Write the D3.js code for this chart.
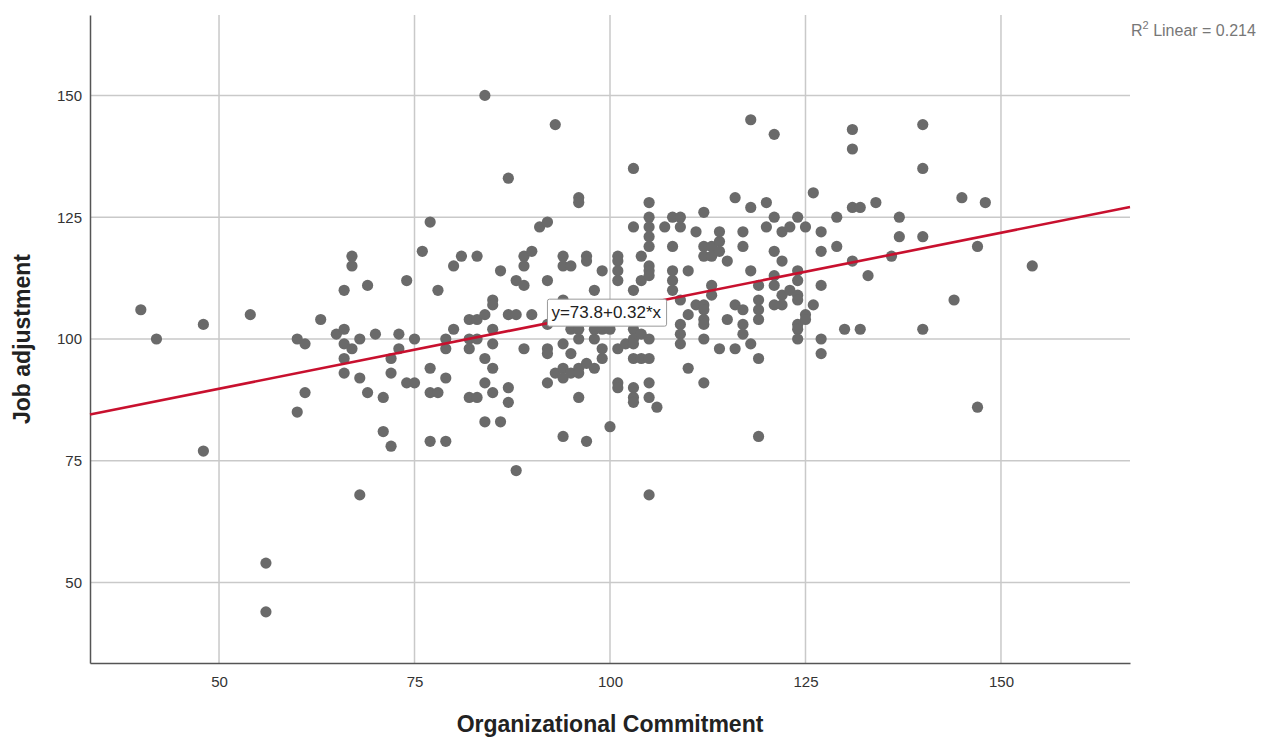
<!DOCTYPE html>
<html>
<head>
<meta charset="utf-8">
<script src="https://cdn.jsdelivr.net/npm/d3@7"></script>
<style>
  body { margin: 0; background: #fff; }
  svg { font-family: 'Liberation Sans', Arial, sans-serif; }
</style>
</head>
<body>
<div id="chart"></div>
<script>
// Organizational Commitment (x) vs Job adjustment (y)
const commitment = [
  40, 42, 48, 48, 54, 56, 56, 60, 60, 61,
  61, 63, 65, 66, 66, 66, 66, 66, 67, 67,
  67, 68, 68, 68, 69, 69, 70, 71, 71, 72,
  72, 72, 73, 73, 74, 74, 75, 75, 76, 77,
  77, 77, 77, 78, 78, 79, 79, 79, 79, 80,
  80, 81, 82, 82, 82, 82, 83, 83, 83, 83,
  84, 84, 84, 84, 84, 85, 85, 85, 85, 85,
  85, 86, 86, 87, 87, 87, 87, 88, 88, 88,
  89, 89, 89, 89, 90, 90, 91, 92, 92, 92,
  92, 92, 92, 93, 93, 94, 94, 94, 94, 94,
  94, 94, 95, 95, 95, 95, 96, 96, 96, 96,
  96, 96, 96, 97, 97, 97, 97, 98, 98, 98,
  98, 99, 99, 99, 99, 100, 100, 101, 101, 101,
  101, 101, 101, 101, 102, 103, 103, 103, 103, 103,
  103, 103, 103, 103, 103, 103, 104, 104, 104, 104,
  105, 105, 105, 105, 105, 105, 105, 105, 105, 105,
  105, 105, 105, 106, 107, 108, 108, 108, 108, 108,
  109, 109, 109, 109, 109, 109, 110, 110, 110, 111,
  111, 112, 112, 112, 112, 112, 112, 112, 112, 112,
  113, 113, 113, 113, 114, 114, 114, 114, 115, 115,
  116, 116, 116, 117, 117, 117, 117, 117, 118, 118,
  118, 118, 119, 119, 119, 119, 119, 119, 120, 120,
  121, 121, 121, 121, 121, 121, 122, 122, 122, 122,
  123, 123, 124, 124, 124, 124, 124, 124, 124, 124,
  125, 125, 125, 126, 126, 127, 127, 127, 127, 127,
  129, 129, 130, 131, 131, 131, 131, 132, 132, 133,
  134, 136, 137, 137, 140, 140, 140, 140, 144, 145,
  147, 147, 148, 154
];
const adjustment = [
  106, 100, 103, 77, 105, 54, 44, 100, 85, 99,
  89, 104, 101, 110, 102, 99, 96, 93, 117, 115,
  98, 100, 92, 68, 111, 89, 101, 88, 81, 96,
  93, 78, 101, 98, 112, 91, 100, 91, 118, 124,
  94, 89, 79, 110, 89, 100, 98, 92, 79, 115,
  102, 117, 104, 100, 98, 88, 117, 104, 100, 88,
  150, 105, 96, 91, 83, 108, 107, 102, 99, 94,
  89, 114, 83, 133, 105, 90, 87, 112, 105, 73,
  117, 115, 111, 98, 118, 105, 123, 124, 112, 103,
  98, 97, 91, 144, 93, 117, 115, 108, 99, 94,
  92, 80, 115, 102, 97, 93, 129, 128, 102, 100,
  94, 93, 88, 117, 116, 95, 79, 110, 102, 100,
  94, 114, 102, 98, 96, 102, 82, 117, 116, 114,
  112, 98, 91, 90, 99, 135, 123, 110, 107, 102,
  100, 99, 96, 90, 88, 87, 117, 112, 101, 96,
  128, 125, 123, 121, 119, 115, 114, 113, 100, 96,
  91, 88, 68, 86, 123, 125, 119, 114, 112, 110,
  125, 123, 108, 103, 101, 99, 114, 105, 94, 122,
  107, 126, 119, 117, 107, 106, 104, 103, 100, 91,
  119, 117, 111, 109, 122, 120, 118, 98, 116, 104,
  129, 107, 98, 122, 119, 106, 103, 101, 145, 127,
  114, 99, 111, 108, 106, 104, 96, 80, 128, 123,
  142, 125, 118, 113, 111, 107, 122, 116, 109, 107,
  123, 110, 125, 114, 112, 109, 108, 103, 102, 100,
  123, 105, 104, 130, 107, 122, 118, 111, 100, 97,
  125, 119, 102, 143, 139, 127, 116, 127, 102, 113,
  128, 117, 125, 121, 144, 135, 121, 102, 108, 129,
  119, 86, 128, 115
];
const ticks = [50, 75, 100, 125, 150];
const fit = { intercept: 73.8, slope: 0.32, r2: 0.214 };
const xTitle = 'Organizational Commitment';
const yTitle = 'Job adjustment';

function draw() {
  const width = 1270;
  const height = 739;
  const margin = { top: 15, right: 140, bottom: 76, left: 90 };
  const points = commitment.map((c, i) => ({ x: c, y: adjustment[i] }));

  const xScale = d3.scaleLinear()
    .domain([33.5, 166.5])
    .range([margin.left, width - margin.right]);

  const yScale = d3.scaleLinear()
    .domain([33.5, 166.5])
    .range([height - margin.bottom, margin.top]);

  const svg = d3.select('#chart')
    .append('svg')
    .attr('width', width)
    .attr('height', height);

  const [x0, x1] = xScale.range();
  const [y0, y1] = yScale.range();

  // grid
  svg.append('g').attr('class', 'grid-x')
    .selectAll('line')
    .data(ticks)
    .join('line')
    .attr('x1', d => xScale(d)).attr('x2', d => xScale(d))
    .attr('y1', y0).attr('y2', y1)
    .style('stroke', '#c9c9c9')
    .style('stroke-width', 1.5);

  svg.append('g').attr('class', 'grid-y')
    .selectAll('line')
    .data(ticks)
    .join('line')
    .attr('x1', x0).attr('x2', x1)
    .attr('y1', d => yScale(d)).attr('y2', d => yScale(d))
    .style('stroke', '#c9c9c9')
    .style('stroke-width', 1.5);

  // axes
  const xAxis = svg.append('g')
    .attr('class', 'axis x')
    .attr('transform', `translate(0,${y0})`)
    .call(d3.axisBottom(xScale).tickValues(ticks).tickSize(0).tickPadding(13));

  const yAxis = svg.append('g')
    .attr('class', 'axis y')
    .attr('transform', `translate(${x0},0)`)
    .call(d3.axisLeft(yScale).tickValues(ticks).tickSize(0).tickPadding(8));

  [xAxis, yAxis].forEach(ax => {
    ax.select('.domain').style('stroke', '#555').style('stroke-width', 1.5);
    ax.selectAll('.tick text')
      .style('font-size', '15px')
      .style('fill', '#333');
  });

  // dots
  svg.append('g').attr('class', 'dots')
    .selectAll('circle')
    .data(points)
    .join('circle')
    .attr('cx', d => xScale(d.x))
    .attr('cy', d => yScale(d.y))
    .attr('r', 5.6)
    .style('fill', '#6a6a6a');

  // fit line
  const line = d3.line()
    .x(d => xScale(d))
    .y(d => yScale(fit.intercept + fit.slope * d));

  svg.append('path')
    .datum(xScale.domain())
    .attr('d', line)
    .style('fill', 'none')
    .style('stroke', '#c8102e')
    .style('stroke-width', 2.6);

  // equation label
  const lx = 92;
  const label = svg.append('g')
    .attr('transform', `translate(${xScale(lx)},${yScale(fit.intercept + fit.slope * lx) - 11})`);
  const labelRect = label.append('rect')
    .style('fill', '#fff')
    .style('stroke', '#999')
    .style('stroke-width', 1);
  const labelText = label.append('text')
    .attr('x', 4)
    .attr('dy', '0.35em')
    .style('font-size', '17px')
    .style('fill', '#222')
    .text(`y=${fit.intercept}+${fit.slope}*x`);
  const bb = labelText.node().getBBox();
  labelRect
    .attr('x', 0).attr('y', bb.y - 4)
    .attr('width', bb.width + 9).attr('height', bb.height + 8)
    .attr('rx', 2);

  // R squared
  const r2 = svg.append('text')
    .attr('x', 1131)
    .attr('y', 36)
    .style('font-size', '16px')
    .style('fill', '#777');
  r2.append('tspan').text('R');
  r2.append('tspan').attr('dy', -7).style('font-size', '11px').text('2');
  r2.append('tspan').attr('dy', 7).text(` Linear = ${fit.r2}`);

  // titles
  svg.append('text')
    .attr('x', (x0 + x1) / 2)
    .attr('y', 732)
    .attr('text-anchor', 'middle')
    .style('font-size', '23px')
    .style('font-weight', 'bold')
    .style('fill', '#222')
    .text(xTitle);

  svg.append('text')
    .attr('transform', `translate(30,${(y0 + y1) / 2}) rotate(-90)`)
    .attr('text-anchor', 'middle')
    .style('font-size', '23px')
    .style('font-weight', 'bold')
    .style('fill', '#222')
    .text(yTitle);
}

draw();
</script>
</body>
</html>
